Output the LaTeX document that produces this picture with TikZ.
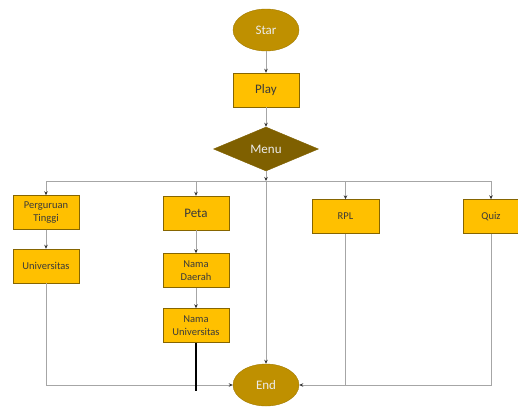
\documentclass[tikz,border=0pt]{standalone}
\usepackage{fontspec}
\setmainfont{Carlito}
\usetikzlibrary{shapes.geometric,arrows.meta}
\definecolor{gold}{HTML}{BF9000}
\definecolor{dgold}{HTML}{7F6000}
\definecolor{boxy}{HTML}{FFC000}
\definecolor{lineg}{HTML}{A6A6A6}
\definecolor{txtd}{HTML}{3A3A3A}
\tikzset{
  term/.style={ellipse, fill=gold, draw=gold!85!black, line width=0.4pt, minimum width=66pt, minimum height=42pt, inner sep=0pt, text=white!92!black, font=\fontsize{13}{14}\selectfont},
  decis/.style={diamond, fill=dgold, draw=dgold, aspect=2.4, minimum width=105pt, minimum height=44pt, inner sep=0pt, text=white!92!black, font=\fontsize{13}{14}\selectfont},
  boxbig/.style={rectangle, fill=boxy, draw=gold!70!black, line width=0.4pt, minimum width=66pt, minimum height=34pt, inner sep=1pt, text=txtd, font=\fontsize{13}{14}\selectfont, align=center},
  boxsm/.style={boxbig, font=\fontsize{10.5}{13}\selectfont},
  conn/.style={draw=lineg, line width=0.7pt},
  arr/.style={conn, -{Stealth[length=4pt,width=3.5pt,black!80]}},
}
\begin{document}
\begin{tikzpicture}[x=1pt,y=-1pt]
\useasboundingbox (0,0) rectangle (518,407);
\node[term] (star) at (266,30) {Star};
\node[boxbig] (play) at (266,90) {Play};
\node[decis] (menu) at (266,149) {Menu};
\node[boxsm] (pt) at (46,212.5) {Perguruan\\Tinggi};
\node[boxsm] (univ) at (46,266) {Universitas};
\node[boxbig] (peta) at (196,213) {Peta};
\node[boxsm] (nd) at (196,270.5) {Nama\\Daerah};
\node[boxsm] (nu) at (196,325.5) {Nama\\Universitas};
\node[boxsm, minimum width=67pt] (rpl) at (345.5,216.5) {RPL};
\node[boxsm, minimum width=56pt] (quiz) at (491,216.5) {Quiz};
\node[term] (end) at (266,385) {End};
\coordinate (j) at (266,181);
\coordinate (jl) at (46,181);
\coordinate (jp) at (196,181);
\coordinate (jr) at (345.5,181);
\coordinate (jq) at (491,181);
\coordinate (br) at (345.5,386);
\coordinate (nuend) at (196,391);
\draw[arr] (star) -- (play);
\draw[arr] (play) -- (menu);
\draw[arr] (menu) -- (j);
\draw[arr] (j) -- (end);
\draw[conn] (jl) -- (jq);
\draw[arr] (jl) -- (pt);
\draw[arr] (jp) -- (peta);
\draw[arr] (jr) -- (rpl);
\draw[arr] (jq) -- (quiz);
\draw[arr] (pt) -- (univ);
\draw[arr] (peta) -- (nd);
\draw[arr] (nd) -- (nu);
\draw[arr] (univ) |- (end);
\draw[arr] (quiz) |- (end);
\draw[conn] (rpl) -- (br);
\draw[black, line width=1.2pt] (nu) -- (nuend);
\end{tikzpicture}
\end{document}
